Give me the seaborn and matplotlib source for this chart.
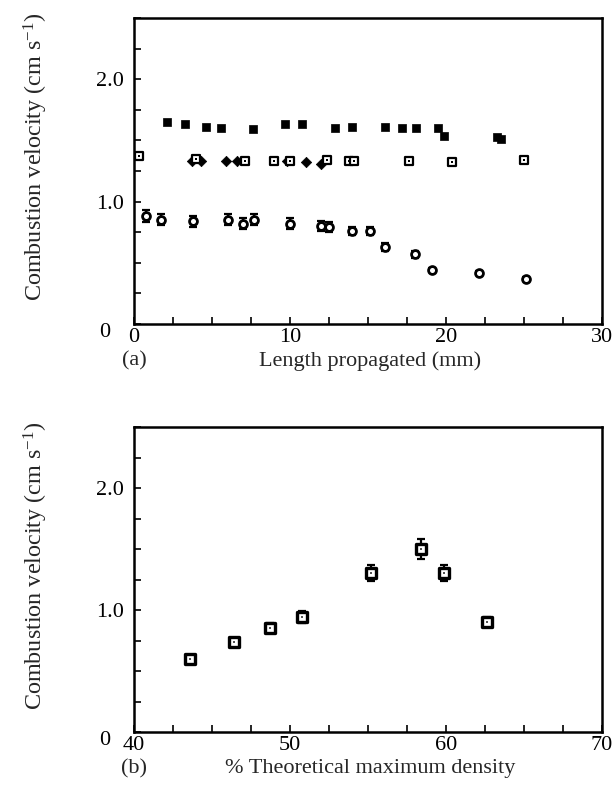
import matplotlib
matplotlib.use("Agg")
import matplotlib.pyplot as plt
import matplotlib.transforms as mtrans
import seaborn as sns
import pandas as pd
import numpy as np

# ---------------- data ----------------
# panel (a): length propagated (mm) vs combustion velocity (cm/s)
filled_sq_x = [2.1, 3.3, 4.6, 5.6, 7.6, 9.7, 10.8, 12.9, 14.0, 16.1, 17.2, 18.1, 19.5, 19.9, 23.3, 23.5]
filled_sq_y = [1.65, 1.63, 1.61, 1.60, 1.59, 1.63, 1.63, 1.60, 1.61, 1.61, 1.60, 1.60, 1.60, 1.54, 1.53, 1.51]

open_sq_x = [0.3, 4.0, 7.1, 9.0, 10.0, 12.4, 13.8, 14.1, 17.6, 20.4, 25.0]
open_sq_y = [1.37, 1.35, 1.33, 1.33, 1.33, 1.34, 1.33, 1.33, 1.33, 1.32, 1.34]

filled_dia_x = [3.7, 4.3, 5.9, 6.6, 9.8, 11.0, 12.0]
filled_dia_y = [1.33, 1.33, 1.33, 1.33, 1.33, 1.32, 1.31]

open_dia_x = [0.8, 1.7, 3.8, 6.0, 7.0, 7.7, 10.0, 12.0, 12.5, 14.0, 15.1, 16.1, 18.0, 19.1, 22.1, 25.1]
open_dia_y = [0.88, 0.85, 0.84, 0.85, 0.82, 0.85, 0.82, 0.80, 0.79, 0.76, 0.76, 0.63, 0.57, 0.44, 0.42, 0.37]
open_dia_err = [0.05, 0.045, 0.045, 0.045, 0.045, 0.045, 0.045, 0.04, 0.04, 0.035, 0.035, 0.035, 0.03, 0.015, 0.015, 0.015]

# panel (b): % theoretical maximum density vs combustion velocity
tmd_x = [43.6, 46.4, 48.7, 50.8, 55.2, 58.4, 59.9, 62.6]
tmd_y = [0.60, 0.74, 0.85, 0.94, 1.30, 1.50, 1.30, 0.90]
tmd_err = [0.02, 0.02, 0.04, 0.05, 0.065, 0.08, 0.065, 0.04]

y_ticks = [0, 1.0, 2.0]
y_ticklabels = ["0", "1.0", "2.0"]
xa_ticks = [0, 10, 20, 30]
xb_ticks = [40, 50, 60, 70]

ylabel = "Combustion velocity (cm s$^{-1}$)"
xa_label = "Length propagated (mm)"
xb_label = "% Theoretical maximum density"

# ---------------- style ----------------
sns.set_theme(style="ticks")
plt.rcParams["font.family"] = ["Liberation Serif", "DejaVu Serif"]
plt.rcParams["mathtext.fontset"] = "custom"
plt.rcParams["mathtext.rm"] = "Liberation Serif"
plt.rcParams["mathtext.it"] = "Liberation Serif:italic"
plt.rcParams["mathtext.default"] = "rm"

FS = 16
FS_Y = 17.4
fig = plt.figure(figsize=(6.16, 7.88), dpi=100)
W, H = 616.0, 788.0
L, R = 134 / W, 602 / W
ax_a = fig.add_axes([L, 1 - 324 / H, R - L, (324 - 18) / H])
ax_b = fig.add_axes([L, 1 - 732 / H, R - L, (732 - 427) / H])

df_fs = pd.DataFrame({"x": filled_sq_x, "y": filled_sq_y})
df_os = pd.DataFrame({"x": open_sq_x, "y": open_sq_y})
df_fd = pd.DataFrame({"x": filled_dia_x, "y": filled_dia_y})
df_od = pd.DataFrame({"x": open_dia_x, "y": open_dia_y, "e": open_dia_err})
df_b = pd.DataFrame({"x": tmd_x, "y": tmd_y, "e": tmd_err})

# ----- panel (a) -----
ax = ax_a
ax.errorbar(df_od["x"], df_od["y"], yerr=df_od["e"], fmt="none", ecolor="black",
            elinewidth=1.6, capsize=3.2, capthick=1.6, zorder=2)
sns.scatterplot(data=df_od, x="x", y="y", ax=ax, marker="o", s=32, color="white",
                edgecolor="black", linewidth=2.0, zorder=3, legend=False)
sns.scatterplot(data=df_fs, x="x", y="y", ax=ax, marker="s", s=34, color="black",
                edgecolor="black", linewidth=0.5, zorder=3, legend=False)
sns.scatterplot(data=df_fd, x="x", y="y", ax=ax, marker="D", s=28, color="black",
                edgecolor="black", linewidth=0.5, zorder=3, legend=False)
sns.scatterplot(data=df_os, x="x", y="y", ax=ax, marker="s", s=36, color="white",
                edgecolor="black", linewidth=1.6, zorder=4, legend=False)
sns.scatterplot(data=df_os, x="x", y="y", ax=ax, marker="s", s=3, color="black",
                edgecolor="black", linewidth=0, zorder=5, legend=False)
ax.set_xlim(0, 30)
ax.set_xticks(xa_ticks)
ax.set_xticks(np.arange(0, 30.01, 2.5), minor=True)

# ----- panel (b) -----
ax = ax_b
ax.errorbar(df_b["x"], df_b["y"], yerr=df_b["e"], fmt="none", ecolor="black",
            elinewidth=1.6, capsize=3.2, capthick=1.6, zorder=2)
sns.scatterplot(data=df_b, x="x", y="y", ax=ax, marker="s", s=44, color="white",
                edgecolor="black", linewidth=2.4, zorder=3, legend=False)
sns.scatterplot(data=df_b, x="x", y="y", ax=ax, marker="s", s=2, color="#555555",
                edgecolor="none", linewidth=0, zorder=4, legend=False)
ax.set_xlim(40, 70)
ax.set_xticks(xb_ticks)
ax.set_xticks(np.arange(40, 70.01, 2.5), minor=True)

for ax, xl, tag in [(ax_a, xa_label, "(a)"), (ax_b, xb_label, "(b)")]:
    ax.set_ylim(0, 2.5)
    ax.set_yticks(y_ticks)
    ax.set_yticklabels(y_ticklabels)
    ax.set_yticks(np.arange(0, 2.51, 0.25), minor=True)
    ax.tick_params(axis="both", which="both", direction="in", length=5, width=1.2,
                   labelsize=FS, colors="black", top=False, right=False)
    ax.tick_params(axis="x", which="major", pad=3)
    ax.tick_params(axis="y", which="major", pad=7)
    for sp in ax.spines.values():
        sp.set_visible(True)
        sp.set_linewidth(1.8)
        sp.set_color("black")
    ax.set_facecolor("white")
    ax.grid(False)
    ax.set_xlabel(xl, fontsize=FS)
    ax.xaxis.set_label_coords(0.505, -0.088)
    ax.set_ylabel(ylabel, fontsize=FS_Y)
    ax.yaxis.set_label_coords(-0.18, 0.545)
    ax.text(0.0, -0.088, tag, transform=ax.transAxes, ha="center", va="top", fontsize=FS)
    # the "0" label sits further left and lower in the original
    lbl = ax.get_yticklabels()[0]
    lbl.set_transform(lbl.get_transform() +
                      mtrans.ScaledTranslation(-0.14, -0.06, fig.dpi_scale_trans))

fig.savefig("out.png", dpi=100, facecolor="white")
